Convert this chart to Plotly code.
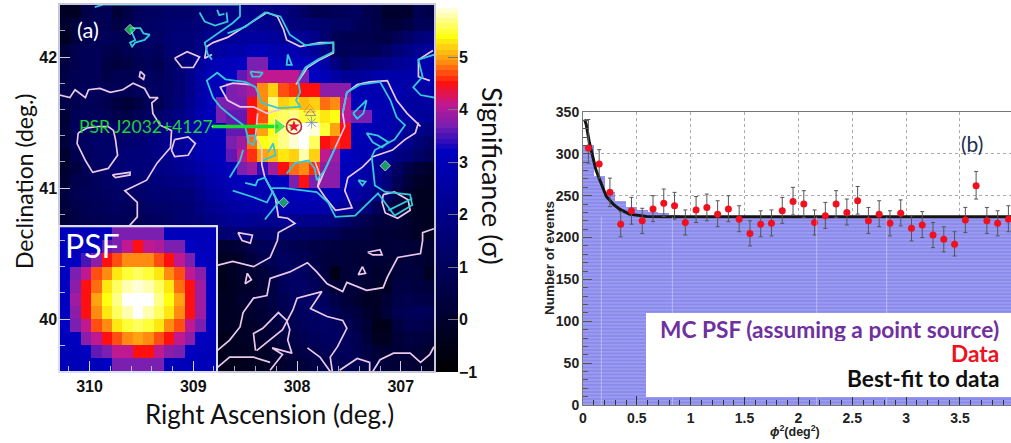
import numpy as np
import plotly.graph_objects as go

W, H = 1011, 443

# ---------- panel (a) : significance map, 0.1 deg bins, top row first ----------
SIG = [
[-0.2,-0.2,0.6,0.8,0.9,0.2,0.5,1.0,1.1,1.1,1.3,1.3,1.3,1.5,1.7,1.8,1.8,2.0,2.0,1.9,1.8,1.8,1.5,1.2,0.8,0.8,0.9,1.0,1.1,0.7,0.5,0.0,0.0,0.0,0.8,0.6],
[0.0,0.3,0.7,0.8,0.8,0.5,0.7,1.1,1.1,1.3,1.4,1.5,1.5,1.6,1.8,2.0,2.1,2.2,2.2,2.1,2.0,1.9,1.7,1.6,1.5,1.4,1.2,1.2,1.0,0.8,0.6,0.3,0.3,0.5,0.9,0.9],
[-0.3,0.3,0.8,0.9,1.0,0.9,0.8,1.2,1.3,1.2,1.5,1.6,1.6,1.8,2.1,2.2,2.3,2.4,2.5,2.5,2.4,2.3,2.3,2.2,2.0,1.4,0.9,0.8,0.7,0.7,0.6,0.6,0.9,1.2,1.6,1.8],
[0.3,0.7,0.9,0.9,0.7,0.6,0.8,1.0,1.1,1.0,1.4,1.6,1.6,2.0,2.3,2.5,2.7,2.7,3.0,3.0,2.8,2.8,2.8,2.6,2.3,1.9,1.0,0.9,1.0,0.9,0.9,1.2,1.6,1.9,2.2,2.4],
[0.4,0.7,0.9,0.9,0.5,0.4,0.5,0.8,1.0,0.8,1.2,1.5,1.8,2.4,2.8,3.0,3.1,3.2,3.7,3.7,3.1,3.1,3.1,3.1,3.0,2.6,1.8,1.2,1.5,1.7,1.8,2.0,2.2,2.4,2.6,2.8],
[0.6,0.8,0.9,0.9,0.6,0.8,0.8,0.9,1.1,1.0,1.2,1.5,2.0,2.6,3.0,3.1,3.2,3.6,3.9,4.1,4.1,4.1,4.1,3.7,3.2,3.0,2.6,2.3,2.3,2.5,2.7,2.7,2.7,2.7,2.8,2.8],
[0.7,0.8,1.0,1.0,0.9,0.9,0.8,1.0,1.1,1.1,1.2,1.5,2.0,2.6,3.0,3.1,3.7,3.8,4.0,4.9,5.2,4.7,4.6,4.5,4.5,3.8,3.8,3.8,3.0,2.9,2.8,2.7,2.8,2.6,2.6,2.7],
[0.6,0.7,0.9,0.9,0.7,0.4,0.2,0.5,0.9,0.8,1.3,1.6,2.1,2.7,3.0,3.7,3.7,3.7,4.5,4.9,5.7,5.2,5.3,5.1,5.2,4.8,4.9,4.1,3.1,3.0,2.9,2.9,2.7,2.5,2.5,2.5],
[0.2,0.9,1.0,1.0,0.9,0.7,0.6,0.9,1.1,1.3,1.6,1.9,2.3,2.8,3.1,3.7,3.6,3.6,4.5,4.7,5.5,5.6,5.7,5.5,5.5,5.3,5.4,4.1,3.7,3.7,3.0,2.8,2.7,2.6,2.4,2.3],
[0.3,1.0,1.1,1.2,1.2,1.3,1.3,1.4,1.6,1.8,2.0,2.3,2.7,2.9,3.0,3.1,3.6,3.6,4.5,5.0,5.4,5.7,5.9,6.0,5.9,5.5,5.0,4.5,3.1,3.0,2.9,2.8,2.6,2.3,2.0,1.8],
[0.3,0.9,1.1,1.3,1.3,1.3,1.4,1.5,1.7,1.9,2.1,2.3,2.6,2.8,3.0,3.1,3.7,3.9,4.8,5.4,5.5,5.7,5.9,6.0,5.6,4.5,4.6,4.5,3.0,2.9,2.8,2.6,2.3,2.1,1.6,1.3],
[0.0,0.7,1.0,1.2,1.3,1.4,1.6,1.6,1.7,1.9,2.1,2.3,2.5,2.8,3.0,3.1,3.6,4.1,4.6,5.0,5.1,5.3,5.2,5.8,5.2,4.1,3.9,3.2,3.0,2.9,2.6,2.3,1.9,1.7,1.3,1.0],
[0.0,0.4,0.9,1.1,1.3,1.5,1.6,1.6,1.7,1.9,2.0,2.2,2.4,2.6,2.8,3.0,3.1,3.7,3.9,3.4,3.9,4.5,4.8,4.9,4.6,3.8,3.8,3.1,2.9,2.6,2.3,1.8,1.2,0.6,0.2,0.0],
[0.2,0.7,0.8,1.0,1.2,1.3,1.4,1.4,1.5,1.7,1.8,1.9,2.0,2.3,2.6,2.8,3.0,3.1,3.1,3.0,3.1,3.2,3.7,4.5,3.7,3.8,3.8,3.0,2.8,2.6,2.2,1.7,0.9,0.3,-0.1,-0.2],
[0.4,0.7,0.9,1.0,1.1,1.2,1.2,1.2,1.4,1.5,1.5,1.6,1.6,2.0,2.4,2.6,2.8,2.9,2.9,2.8,2.9,3.0,3.0,3.1,3.0,3.0,3.0,2.8,2.6,2.3,2.0,1.4,0.6,0.0,-0.3,-0.3],
[0.3,0.6,0.8,0.9,1.0,1.1,1.0,1.0,1.2,1.3,1.3,1.4,1.5,1.8,2.1,2.3,2.5,2.6,2.7,2.7,2.7,2.8,2.8,2.8,2.8,2.7,2.6,2.3,2.1,1.6,1.0,0.6,0.2,-0.2,-0.3,-0.3],
[0.2,0.5,0.7,0.8,0.9,1.0,0.9,0.8,1.0,1.1,1.2,1.4,1.5,1.6,1.9,2.0,2.2,2.3,2.2,2.1,2.1,2.2,2.1,2.0,2.0,1.9,1.7,1.3,1.0,0.7,0.4,0.3,0.3,0.0,-0.2,-0.3],
[-0.2,0.3,0.6,0.7,0.7,0.8,0.6,0.5,0.6,0.8,0.7,0.6,0.8,1.0,1.3,1.4,1.5,1.5,1.4,1.4,1.5,1.3,1.3,1.2,1.1,1.0,0.9,0.6,0.5,0.4,0.2,0.2,0.1,0.0,-0.2,-0.3],
[0.3,0.3,0.3,0.3,0.3,0.3,0.3,0.3,0.3,0.3,0.3,0.3,0.3,0.3,0.3,0.0,0.1,0.3,0.7,0.9,1.0,0.9,0.8,0.7,0.6,0.5,0.4,0.3,0.3,0.3,0.2,0.2,0.3,0.2,0.1,0.0],
[0.3,0.3,0.3,0.3,0.3,0.3,0.3,0.3,0.3,0.3,0.3,0.3,0.3,0.3,0.3,-0.3,-0.2,0.0,0.3,0.7,0.9,1.1,1.0,0.9,0.6,0.4,0.3,0.3,0.2,0.2,0.2,0.2,0.2,0.3,0.2,0.0],
[0.3,0.3,0.3,0.3,0.3,0.3,0.3,0.3,0.3,0.3,0.3,0.3,0.3,0.3,0.3,-0.4,-0.2,0.0,0.1,0.3,0.6,1.0,1.2,1.1,0.8,0.4,-0.5,0.2,0.3,0.2,0.0,0.0,0.3,0.4,0.3,-0.2],
[0.3,0.3,0.3,0.3,0.3,0.3,0.3,0.3,0.3,0.3,0.3,0.3,0.3,0.3,0.3,-0.4,-0.3,-0.1,0.0,0.2,0.5,1.0,1.2,1.2,1.0,0.6,0.2,0.2,0.3,0.1,-0.1,-0.2,0.5,0.5,0.4,0.3],
[0.3,0.3,0.3,0.3,0.3,0.3,0.3,0.3,0.3,0.3,0.3,0.3,0.3,0.3,0.3,-0.3,-0.2,0.0,0.1,0.3,0.5,0.8,1.1,1.2,1.2,1.0,0.6,0.3,0.1,-0.2,-0.1,0.2,0.6,0.7,0.6,0.5],
[0.3,0.3,0.3,0.3,0.3,0.3,0.3,0.3,0.3,0.3,0.3,0.3,0.3,0.3,0.3,-0.2,-0.2,-0.1,0.0,0.2,0.4,0.7,0.9,1.1,1.2,1.2,0.8,0.6,0.4,0.0,-0.2,0.3,0.7,0.9,1.0,0.9],
[0.3,0.3,0.3,0.3,0.3,0.3,0.3,0.3,0.3,0.3,0.3,0.3,0.3,0.3,0.3,-0.3,-0.2,-0.2,-0.1,0.1,0.3,0.6,0.8,1.0,1.1,1.2,1.1,0.9,0.6,0.2,-0.4,-0.4,0.4,0.7,0.7,0.6],
[0.3,0.3,0.3,0.3,0.3,0.3,0.3,0.3,0.3,0.3,0.3,0.3,0.3,0.3,0.3,-0.4,-0.3,-0.2,-0.1,0.0,0.2,0.4,0.6,0.8,1.0,1.1,1.1,1.0,0.8,0.3,-0.3,-0.3,0.2,0.4,0.4,0.3],
[0.3,0.3,0.3,0.3,0.3,0.3,0.3,0.3,0.3,0.3,0.3,0.3,0.3,0.3,0.3,-0.4,-0.3,-0.3,-0.2,-0.2,0.0,0.2,0.4,0.6,0.7,0.9,1.0,1.0,0.8,0.5,0.2,0.1,0.2,0.3,0.2,0.0],
[0.3,0.3,0.3,0.3,0.3,0.3,0.3,0.3,0.3,0.3,0.3,0.3,0.3,0.3,0.3,-0.4,-0.4,-0.4,-0.3,-0.3,-0.1,0.0,0.2,0.3,0.5,0.6,0.8,0.8,0.8,0.6,0.4,0.3,0.2,0.2,0.1,-0.1],
]

PSF = [
[3.1,3.1,3.1,3.1,3.2,3.7,3.7,3.7,3.7,3.7,3.1,3.1,3.1,3.1,3.1],
[3.1,3.1,3.2,3.2,3.6,3.7,4.1,4.5,4.1,4.0,3.7,3.7,3.2,3.1,3.1],
[3.1,3.2,3.5,3.8,4.5,4.7,4.9,4.9,4.9,4.7,4.5,4.1,3.7,3.2,3.1],
[3.2,3.7,4.1,4.7,4.9,5.3,5.5,5.6,5.5,5.3,4.9,4.7,4.1,3.8,3.2],
[3.2,3.8,4.5,4.8,5.3,5.6,5.8,5.9,5.8,5.6,5.3,4.8,4.5,3.9,3.2],
[3.2,3.9,4.5,5.0,5.4,5.7,6.0,6.0,6.0,5.7,5.4,5.0,4.5,3.9,3.2],
[3.2,3.8,4.5,4.9,5.3,5.6,5.8,6.0,5.8,5.6,5.3,4.9,4.5,3.9,3.2],
[3.2,3.7,4.1,4.7,4.9,5.3,5.5,5.6,5.5,5.3,4.9,4.7,4.1,3.7,3.2],
[3.1,3.2,3.8,4.1,4.5,4.7,4.9,5.0,4.9,4.7,4.5,4.1,3.8,3.2,3.1],
[3.0,3.1,3.2,3.6,3.7,4.1,4.1,4.5,4.5,4.1,3.8,3.7,3.2,3.1,3.0],
[3.0,3.0,3.1,3.1,3.2,3.7,3.7,3.7,3.7,3.7,3.1,3.1,3.0,3.0,3.0],
]

SIG_COLORS = [[-1,"#000000"],[3.2,"#0000c0"],[3.7,"#7a1fb0"],[4.1,"#c01890"],[4.5,"#ff1010"],
              [4.9,"#ff8c10"],[5.4,"#ffff10"],[6,"#ffffff"]]
SCALE_TICKS = [-1, 0, 1, 2, 3, 4, 5, 6]

PINK = [
[(310.29,41.71),(310.19,41.69),(310.14,41.75),(310.04,41.69),(310.01,41.75),(309.90,41.76),(309.80,41.73),(309.68,41.75),(309.58,41.80),(309.47,41.76),(309.42,41.69),(309.34,41.69),(309.40,41.65),(309.39,41.57),(309.32,41.48),(309.21,41.44),(309.22,41.31),(309.35,41.19),(309.45,41.06),(309.66,40.98),(309.54,40.89),(309.54,40.78),(309.63,40.70)],
[(310.11,41.42),(310.12,41.34),(310.04,41.21),(309.97,41.12),(309.82,41.15),(309.73,41.25),(309.75,41.37),(309.77,41.44),(309.82,41.47),(309.92,41.47),(310.02,41.46),(310.11,41.42)],
[(309.78,41.10),(309.61,41.12),(309.61,41.10),(309.75,41.08),(309.78,41.10)],
[(309.18,41.37),(309.05,41.39),(308.98,41.34),(309.05,41.25),(309.18,41.24),(309.21,41.29),(309.18,41.37)],
[(309.18,41.99),(309.06,42.04),(308.94,42.0),(309.0,41.92),(309.11,41.92),(309.18,41.99)],
[(309.51,41.89),(309.47,41.86),(309.48,41.83),(309.52,41.85),(309.51,41.89)],
[(308.82,42.02),(308.89,41.99),(308.87,42.08),(308.81,42.11),(308.67,42.15),(308.55,42.21),(308.42,42.28),(308.29,42.34),(308.19,42.31),(308.13,42.21),(308.10,42.13),(307.97,42.08),(307.78,42.11),(307.65,42.11),(307.65,42.03),(307.78,41.98),(307.90,41.92),(307.97,41.84),(308.01,41.79)],
[(308.45,41.79),(308.62,41.80),(308.74,41.77),(308.67,41.67),(308.55,41.62),(308.42,41.62),(308.29,41.57),(308.16,41.60)],
[(306.83,41.50),(306.86,41.42),(306.96,41.37),(307.08,41.29),(307.27,41.24),(307.37,41.16),(307.51,41.08),(307.54,40.98),(307.47,40.85),(307.63,40.83),(307.73,40.93),(307.80,41.01),(307.73,41.14),(307.63,41.31),(307.54,41.47),(307.56,41.57),(307.52,41.73),(307.42,41.79),(307.30,41.81),(307.13,41.82),(307.04,41.67),(306.94,41.57),(306.81,41.47)],
[(307.17,40.95),(307.06,40.97),(306.93,40.91),(306.91,40.83),(307.03,40.77),(307.15,40.81),(307.18,40.89),(307.17,40.95)],
[(308.38,41.57),(308.40,41.40),(308.34,41.29),(308.34,41.18),(308.31,41.08),(308.21,40.93),(308.18,40.78),(308.09,40.77),(308.02,40.73),(308.18,40.66),(308.19,40.60),(308.26,40.47),(308.42,40.40),(308.62,40.44),(308.77,40.41)],
[(307.83,41.21),(307.78,41.10),(307.80,41.01)],
[(308.77,39.76),(308.65,39.84),(308.55,39.94),(308.52,40.05),(308.42,40.16),(308.29,40.18),(308.26,40.31),(308.07,40.36),(307.90,40.43),(307.81,40.36),(307.71,40.27),(307.56,40.21),(307.52,40.28),(307.33,40.22),(307.17,40.24),(307.13,40.32),(307.03,40.47),(306.81,40.50),(306.79,40.60),(306.79,40.66),(306.68,40.69)],
[(308.39,39.76),(308.14,39.92),(308.04,40.07),(308.0,40.16),(307.76,40.21),(307.87,40.08),(307.71,40.02),(307.56,39.99),(307.52,39.93),(307.61,39.79),(307.68,39.71),(307.66,39.60)],
[(308.40,39.76),(308.42,39.89),(308.33,39.93),(308.18,40.05),(308.10,39.99),(308.07,39.92),(308.09,39.84),(308.05,39.74),(308.24,39.78),(308.14,39.73),(308.26,39.61)],
[(308.77,39.63),(308.65,39.71),(308.42,39.71),(308.26,39.67)],
[(307.90,39.78),(307.78,39.71),(307.68,39.60)],
[(307.59,39.61),(307.42,39.70),(307.30,39.67),(307.30,39.60)],
[(307.27,39.60),(307.20,39.69),(307.07,39.74),(306.91,39.74),(306.81,39.67),(306.72,39.73),(306.68,39.79)],
[(308.48,40.35),(308.44,40.30),(308.50,40.27),(308.48,40.35)],
[(307.37,40.40),(307.34,40.35),(307.41,40.34),(307.37,40.40)],
[(307.32,40.51),(307.20,40.53),(307.18,40.49),(307.27,40.49),(307.32,40.51)],
[(308.57,40.66),(308.43,40.64),(308.45,40.58),(308.53,40.60),(308.57,40.66)],
[(306.69,42.05),(306.83,41.98),(306.83,41.85),(306.72,41.82)],
]

CYAN = [
[(309.95,42.38),(309.87,42.40),(308.55,42.40),(308.55,42.31),(308.62,42.26),(308.89,42.11),(308.86,42.02),(308.82,41.98)],
[(308.67,42.18),(308.50,42.23),(308.31,42.34),(308.16,42.31),(308.07,42.17),(307.92,42.09),(307.65,42.11),(307.65,42.04),(307.80,41.98),(307.92,41.92),(307.99,41.82),(307.97,41.73),(308.01,41.67),(307.97,41.62),(308.18,41.61),(308.34,41.65),(308.40,41.77),(308.50,41.81),(308.60,41.82),(308.69,41.83),(308.77,41.88),(308.87,41.82),(308.81,41.69),(308.74,41.62),(308.62,41.54),(308.50,41.47),(308.47,41.37)],
[(307.56,41.57),(307.52,41.73),(307.39,41.79),(307.20,41.81),(307.10,41.67),(307.04,41.54),(306.96,41.48),(307.06,41.37),(307.25,41.29),(307.28,41.24),(307.25,41.02),(307.15,40.97),(306.91,40.95),(306.89,40.87),(307.06,40.79),(307.22,40.96),(307.44,40.79),(307.63,40.78),(307.70,40.89),(307.81,40.97),(308.12,41.0),(308.26,41.0)],
[(307.12,40.83),(306.89,40.92)],
[(308.50,41.04),(308.40,41.02),(308.38,41.06),(308.31,41.08),(308.24,40.98),(308.18,40.89),(308.31,40.76)],
[(308.65,41.08),(308.55,41.21),(308.52,41.29)],
[(308.62,40.98),(308.42,40.93),(308.29,40.89),(308.23,40.98)],
[(308.10,41.11),(308.02,41.19),(307.89,41.21),(307.83,41.15),(307.81,41.06),(307.73,41.14),(307.63,41.31)],
[(308.48,41.40),(308.40,41.40),(308.42,41.33),(308.47,41.35),(308.48,41.40)],
[(308.28,41.27),(308.23,41.34),(308.21,41.25),(308.33,41.21)],
[(306.67,42.02),(306.83,41.98),(306.79,41.85),(306.88,41.77),(306.81,41.71),(306.67,41.69)],
[(307.46,41.57),(307.33,41.67),(307.36,41.57),(307.42,41.53),(307.46,41.57)],
[(308.09,42.02),(308.05,41.94),(308.10,41.94),(308.09,42.02)],
[(308.45,41.89),(308.33,41.88),(308.36,41.85),(308.43,41.85),(308.45,41.89)],
[(307.33,41.42),(307.22,41.40),(307.12,41.35),(307.18,41.31),(307.27,41.35),(307.33,41.42)],
[(307.41,41.06),(307.34,41.05),(307.37,41.02),(307.41,41.06)],
[(308.94,42.34),(308.89,42.27),(308.79,42.24),(308.67,42.27),(308.68,42.34)],
[(308.77,42.36),(308.75,42.32),(308.70,42.33)],
[(309.61,42.22),(309.51,42.22),(309.48,42.18),(309.42,42.17),(309.47,42.13),(309.56,42.11),(309.59,42.08),(309.61,42.11),(309.56,42.13),(309.61,42.22)],
]

SRC_RA = [309.61, 307.15, 308.13, 308.05]
SRC_DEC = [42.21, 41.17, 40.89, 41.46]
PSR_RA, PSR_DEC = [308.03], [41.47]
ARROW_RA = [308.82, 308.18]
ARROW_DEC = [41.47, 41.47]

# ---------- panel (b) ----------
HIST = [311,273,255,244,237,233,230,229,227,226,225,225,225,225,225,225,225,225,225,225,
        225,225,225,225,225,225,225,225,225,225,225,225,225,225,225,225,225,225,225,225]
DATA = [307,288,254,216,232,220,234,241,238,218,233,236,228,234,222,205,216,217,232,243,
        240,218,226,240,230,244,220,228,217,229,211,215,203,198,192,221,262,220,217,222]
ERR_UP = [34,17,17,15,16,15,16,17,16,15,16,16,16,16,16,15,16,16,16,17,
          16,15,16,16,16,17,16,16,15,16,15,16,15,15,15,15,17,16,15,16]
ERR_DN = [18,17,17,15,16,15,15,16,16,15,15,16,15,15,15,15,15,15,15,16,
          16,15,15,16,15,16,15,15,15,15,15,15,15,15,14,15,16,15,15,15]
FIT_X = [0.015,0.03,0.06,0.09,0.12,0.155,0.217,0.28,0.34,0.43,0.59,0.74,3.974]
FIT_Y = [341,335,313,297,281,269,249,240,234,228,225.2,225,225]
SEAMS = [0.17, 0.83, 2.17, 2.82]

BOLD = "Liberation Sans"
LATO = "Lato"

def px(x): return x / W
def py(y): return 1 - y / H

def flatten(contours):
    ra, dec = [], []
    for c in contours:
        ra += [p[0] for p in c] + [None]
        dec += [p[1] for p in c] + [None]
    return ra, dec

fig = go.Figure()

RA_RANGE = [310.285, 306.68]
DEC_RANGE = [39.604, 42.397]
ra_c = RA_RANGE[0] - 0.05 - 0.10014 * np.arange(36)
dec_c = DEC_RANGE[1] - 0.05 - 0.09975 * np.arange(28)
cmin, cmax = -1, 6
cs = [[(v - cmin) / (cmax - cmin), c] for v, c in SIG_COLORS]

fig.add_trace(go.Heatmap(z=SIG, x=ra_c, y=dec_c, zmin=cmin, zmax=cmax, colorscale=cs, showscale=False,
    xaxis="x", yaxis="y", hoverinfo="skip"))

# colour scale drawn as its own small axis
scale_levels = np.linspace(cmin, cmax, 71)
fig.add_trace(go.Heatmap(z=[[v] for v in scale_levels], x=[0.5], y=scale_levels, zmin=cmin, zmax=cmax,
    colorscale=cs, showscale=False, xaxis="x4", yaxis="y4", hoverinfo="skip"))

ra, dec = flatten(PINK)
fig.add_trace(go.Scatter(x=ra, y=dec, mode="lines", line=dict(color="#ecc8e8", width=1.7),
                         xaxis="x", yaxis="y", hoverinfo="skip", showlegend=False))
ra, dec = flatten(CYAN)
fig.add_trace(go.Scatter(x=ra, y=dec, mode="lines", line=dict(color="#35c8d8", width=1.8),
                         xaxis="x", yaxis="y", hoverinfo="skip", showlegend=False))
fig.add_trace(go.Scatter(x=SRC_RA, y=SRC_DEC, mode="markers",
                         marker=dict(symbol="diamond", color="#22e050", size=[8, 8, 8, 5]),
                         xaxis="x", yaxis="y", hoverinfo="skip", showlegend=False))
fig.add_trace(go.Scatter(x=ARROW_RA, y=ARROW_DEC, mode="lines+markers", line=dict(color="#14e030", width=3.5),
                         marker=dict(symbol=["line-ew", "triangle-right"], size=[1, 15], color="#14e030"),
                         xaxis="x", yaxis="y", hoverinfo="skip", showlegend=False))
fig.add_trace(go.Scatter(x=PSR_RA, y=PSR_DEC, mode="markers",
                         marker=dict(symbol="circle-open", color="#c02636", size=15, line=dict(width=1.6, color="#c02636")),
                         xaxis="x", yaxis="y", hoverinfo="skip", showlegend=False))
fig.add_trace(go.Scatter(x=PSR_RA, y=PSR_DEC, mode="markers",
                         marker=dict(symbol="star", color="#f01030", size=9),
                         xaxis="x", yaxis="y", hoverinfo="skip", showlegend=False))
fig.add_trace(go.Scatter(x=[307.88, 307.87, 307.86], y=[41.60, 41.57, 41.50], mode="markers",
                         marker=dict(symbol=["triangle-up-open", "triangle-up-open", "asterisk-open"],
                                     color=["#e08030", "#7050c0", "#6080d8"], size=[10, 9, 10],
                                     line=dict(width=1, color=["#e08030", "#7050c0", "#6080d8"])),
                         xaxis="x", yaxis="y", hoverinfo="skip", showlegend=False))

psf_x = RA_RANGE[0] - 0.05 - 0.10014 * np.arange(15)
psf_y = 39.604 + 0.05 + 0.09975 * np.arange(11)[::-1]
fig.add_trace(go.Heatmap(z=PSF, x=psf_x, y=psf_y, zmin=cmin, zmax=cmax, colorscale=cs, showscale=False,
                         xaxis="x2", yaxis="y2", hoverinfo="skip"))

# panel (b) traces
phi2 = 0.05 + 0.1 * np.arange(40)
fig.add_trace(go.Bar(x=phi2, y=HIST, width=0.1, xaxis="x3", yaxis="y3", hoverinfo="skip", showlegend=False,
                     marker=dict(color="#8a8aec", line=dict(width=0),
                                 pattern=dict(shape="-", fgcolor="#c4c4f8", bgcolor="#8a8aec", size=3.5, solidity=0.3))))
fig.add_trace(go.Scatter(x=FIT_X, y=FIT_Y, mode="lines", line=dict(color="#151515", width=3),
                         xaxis="x3", yaxis="y3", hoverinfo="skip", showlegend=False))
fig.add_trace(go.Scatter(x=phi2, y=DATA, mode="markers", xaxis="x3", yaxis="y3", hoverinfo="skip", showlegend=False,
                         marker=dict(color="#f01020", size=7),
                         error_y=dict(type="data", array=ERR_UP, arrayminus=ERR_DN, color="#555", thickness=1, width=2)))

inner_tick = dict(ticks="inside", tickcolor="#cfcfdf", tickwidth=1)
shapes = [dict(type="line", xref="x3", yref="y3", x0=s, x1=s, y0=0, y1=225,
               line=dict(color="rgba(235,235,255,0.55)", width=0.8), layer="above") for s in SEAMS]
shapes.append(dict(type="rect", xref="x3", yref="y3", x0=0.585, x1=3.974, y0=9.5, y1=110,
                   fillcolor="white", line=dict(width=0), layer="above"))

ann = []
def label(x, y, text, size, color, family=LATO, angle=0, xanchor="center", weight="normal", height=None):
    ann.append(dict(x=px(x), y=py(y), xref="paper", yref="paper", text=text, showarrow=False,
                    textangle=angle, xanchor=xanchor, yanchor="middle", height=height,
                    font=dict(family=family, size=size, color=color, weight=weight)))

label(24, 181, "Declination (deg.)", 23, "#111", angle=-90)
label(269, 414, "Right Ascension (deg.)", 26, "#111")
label(493, 176, "Significance (σ)", 27, "#111", angle=90)
label(88, 29, "(a)", 22, "#ffffff")
label(92, 246, "PSF", 32, "#ffffff")
label(146, 127, "PSR J2032+4127", 17.5, "#22d038")
label(972, 143, "(b)", 21, "#203050")
label(549, 258, "Number of events", 13.5, "#222", family=BOLD, angle=-90, weight="bold")
label(795, 431, "<i>ϕ</i><sup>2</sup>(deg<sup>2</sup>)", 12.5, "#222", family=BOLD, weight="bold")
label(1001, 329, "MC PSF (assuming a point source)", 22.7, "#7030a0", xanchor="right", weight="bold", height=24)
label(1001, 353, "Data", 22.7, "#f01020", xanchor="right", weight="bold", height=24)
label(1001, 378, "Best-fit to data", 22.7, "#101010", xanchor="right", weight="bold", height=24)

tf_a = dict(family=BOLD, size=16, color="#111", weight="bold")
tf_b = dict(family=BOLD, size=14, color="#222", weight="bold")
fig.update_layout(
    width=W, height=H, margin=dict(l=0, r=0, t=0, b=0, autoexpand=False), paper_bgcolor="white", plot_bgcolor="white",
    showlegend=False, shapes=shapes, annotations=ann, bargap=0,
    xaxis=dict(domain=[px(60), px(434)], range=RA_RANGE, tickvals=[310, 309, 308, 307], ticklen=10,
               minor=dict(dtick=0.2, ticks="inside", ticklen=5, tickcolor="#a8a8b8"),
               tickfont=tf_a, showgrid=False, zeroline=False, showline=True, linecolor="#c8c8d8", linewidth=1.5,
               mirror=True, layer="above traces", **inner_tick),
    yaxis=dict(domain=[py(371), py(5)], range=DEC_RANGE, tickvals=[40, 41, 42], ticklen=10, ticklabelstandoff=-2,
               minor=dict(dtick=0.2, ticks="inside", ticklen=5, tickcolor="#a8a8b8"),
               tickfont=tf_a, showgrid=False, zeroline=False, showline=True, linecolor="#c8c8d8", linewidth=1.5,
               mirror=True, layer="above traces", **inner_tick),
    xaxis2=dict(domain=[px(60), px(216)], range=[RA_RANGE[0], RA_RANGE[0] - 156 / 103.7], tickvals=[310, 309],
                ticklen=10, minor=dict(dtick=0.2, ticks="inside", ticklen=5, tickcolor="#b8b8d8"),
                showticklabels=False, showgrid=False, zeroline=False, showline=True, linecolor="#dcdcf4",
                linewidth=2, mirror=True, anchor="y2", layer="above traces", **inner_tick),
    yaxis2=dict(domain=[py(371), py(227)], range=[39.604, 39.604 + 144 / 131], tickvals=[40],
                ticklen=10, minor=dict(dtick=0.2, ticks="inside", ticklen=5, tickcolor="#b8b8d8"),
                showticklabels=False, showgrid=False, zeroline=False, showline=True, linecolor="#dcdcf4",
                linewidth=2, mirror=True, anchor="x2", layer="above traces", **inner_tick),
    xaxis3=dict(domain=[px(583), 1], range=[0, 3.974], tickmode="linear", tick0=0, dtick=0.5,
                ticks="inside", ticklen=9, tickcolor="#333", tickwidth=1,
                minor=dict(dtick=0.1, ticks="inside", ticklen=5, tickcolor="#333"),
                tickformat="~g", tickfont=tf_b, showgrid=True, gridcolor="#aaaaaa", griddash="dot", gridwidth=1,
                zeroline=False, showline=True, linecolor="#777", linewidth=1, mirror=True,
                anchor="y3", layer="above traces"),
    yaxis3=dict(domain=[py(405), py(112)], range=[0, 350], tickmode="linear", tick0=0, dtick=50,
                ticks="inside", ticklen=9, tickcolor="#555", tickwidth=1,
                minor=dict(dtick=10, ticks="inside", ticklen=5, tickcolor="#555"),
                tickfont=tf_b, showgrid=True, gridcolor="#aaaaaa", griddash="dot", gridwidth=1,
                zeroline=False, showline=True, linecolor="#777", linewidth=1, mirror=True,
                anchor="x3", layer="above traces"),
    xaxis4=dict(domain=[px(436), px(458)], range=[0, 1], visible=False, anchor="y4"),
    yaxis4=dict(domain=[py(372), py(5)], range=[cmin, cmax], tickvals=SCALE_TICKS, side="right", anchor="x4",
                ticks="inside", ticklen=10, tickcolor="#777", tickwidth=1, tickfont=tf_a,
                showgrid=False, zeroline=False, showline=False, layer="above traces"),
)

fig.write_html("out.html", config={"displayModeBar": False},
               post_script="document.body.style.margin='0';document.body.style.overflow='hidden';")
